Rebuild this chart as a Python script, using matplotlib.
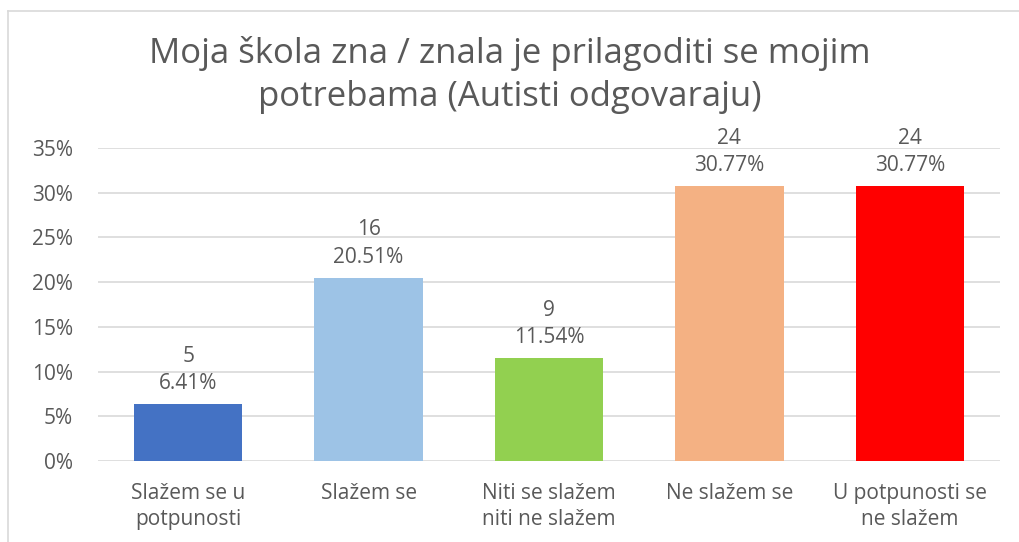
import matplotlib.pyplot as plt
from matplotlib.lines import Line2D

categories = ["Slažem se u\npotpunosti", "Slažem se", "Niti se slažem\nniti ne slažem",
              "Ne slažem se", "U potpunosti se\nne slažem"]
counts = [5, 16, 9, 24, 24]
percents = [6.41, 20.51, 11.54, 30.77, 30.77]
colors = ["#4472C4", "#9DC3E6", "#92D050", "#F4B183", "#FF0000"]
yticks = [0, 5, 10, 15, 20, 25, 30, 35]

W, H = 1019, 542
plt.rcParams['font.family'] = ['Open Sans', 'DejaVu Sans']
txt = "#595959"

fig = plt.figure(figsize=(W / 100, H / 100), dpi=100)
ax = fig.add_axes([98 / W, 1 - 461 / H, 902 / W, (461 - 148) / H])

x = range(len(categories))
ax.bar(x, percents, width=0.6, color=colors, zorder=3)
for i, (c, p) in enumerate(zip(counts, percents)):
    ax.annotate(f"{c}\n{p:.2f}%", (i, p), xytext=(0, 7), textcoords="offset points",
                ha="center", va="bottom", fontsize=15, color=txt, linespacing=1.4)

ax.set_xlim(-0.5, 4.5)
ax.set_ylim(0, 35)
ax.set_yticks(yticks)
ax.set_yticklabels([f"{t}%" for t in yticks], fontsize=15, color=txt)
ax.set_xticks(list(x))
ax.set_xticklabels(categories, fontsize=15, color=txt, linespacing=1.3)
ax.tick_params(length=0, pad=16)
ax.tick_params(axis="y", pad=18)
ax.grid(axis="y", color="#D9D9D9", linewidth=1.2, zorder=0)
for s in ax.spines.values():
    s.set_visible(False)

fig.text(0.5, 1 - 75 / H, "Moja škola zna / znala je prilagoditi se mojim\npotrebama (Autisti odgovaraju)",
         ha="center", va="center", fontsize=25, color=txt, linespacing=1.38)

# chart frame (top and left edge visible)
fig.add_artist(Line2D([8 / W, 8 / W], [0, 1 - 11 / H], transform=fig.transFigure, color="#D9D9D9", lw=1.2))
fig.add_artist(Line2D([8 / W, 1], [1 - 11 / H, 1 - 11 / H], transform=fig.transFigure, color="#D9D9D9", lw=1.2))

fig.savefig("out.png", dpi=100)
